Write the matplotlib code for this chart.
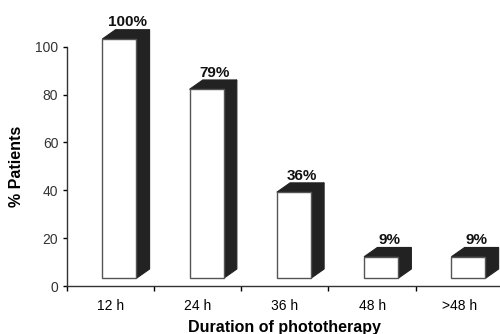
import matplotlib.pyplot as plt
from matplotlib.patches import Polygon

plt.rcParams['font.family'] = ['Liberation Sans', 'DejaVu Sans']

durations = ['12 h', '24 h', '36 h', '48 h', '>48 h']
percent_patients = [100, 79, 36, 9, 9]
bar_labels = ['100%', '79%', '36%', '9%', '9%']

fig = plt.figure(figsize=(5, 3.34), dpi=100)
ax = fig.add_axes([0.1334, 0.1437, 0.8726, 0.7165])

# pseudo-3D boxes: white front face, dark top and side
width = 0.39
shift = 0.103      # front face offset from the category centre
base = 3.2         # front face floats slightly above the axis
dx, dy = 0.152, 3.9
dark = '#222222'

for i, (val, lab) in enumerate(zip(percent_patients, bar_labels)):
    x0 = i + shift - width / 2
    x1 = x0 + width
    y0 = base
    y1 = base + val
    front = Polygon([(x0, y0), (x1, y0), (x1, y1), (x0, y1)],
                    closed=True, facecolor='white', edgecolor='#555555',
                    linewidth=1.0, clip_on=False, zorder=3)
    top = Polygon([(x0, y1), (x1, y1), (x1 + dx, y1 + dy), (x0 + dx, y1 + dy)],
                  closed=True, facecolor=dark, edgecolor=dark,
                  linewidth=0.8, clip_on=False, zorder=3)
    side = Polygon([(x1, y0), (x1 + dx, y0 + dy), (x1 + dx, y1 + dy), (x1, y1)],
                   closed=True, facecolor=dark, edgecolor=dark,
                   linewidth=0.8, clip_on=False, zorder=3)
    for p in (side, top, front):
        ax.add_patch(p)
    ax.text(i + shift + dx / 2 + 0.02, y1 + dy + 0.1, lab, ha='center', va='bottom',
            fontsize=11, fontweight='bold', color='#111111')

ax.set_xlim(-0.5, 4.5)
ax.set_ylim(0, 100)

ax.set_yticks(range(0, 101, 20))
ax.set_xticks([i - 0.5 for i in range(6)])
ax.set_xticklabels([])
ax.set_xticks(range(5), minor=True)
ax.set_xticklabels(durations, minor=True)
ax.tick_params(axis='x', which='minor', length=0, pad=9)
ax.tick_params(axis='x', which='major', length=3.5, width=1, direction='out')
ax.tick_params(axis='y', length=3, width=1, direction='out', pad=3)
ax.tick_params(labelsize=10, labelcolor='#333333')

for s in ('top', 'right'):
    ax.spines[s].set_visible(False)
for s in ('left', 'bottom'):
    ax.spines[s].set_linewidth(1.0)
    ax.spines[s].set_color('#333333')

ax.set_ylabel('% Patients', fontsize=11.5, fontweight='bold')
ax.yaxis.set_label_coords(-0.097, 0.5)
ax.set_xlabel('Duration of phototherapy', fontsize=11.5, fontweight='bold')
ax.xaxis.set_label_coords(0.5, -0.14)

fig.savefig('out.png', dpi=100)
